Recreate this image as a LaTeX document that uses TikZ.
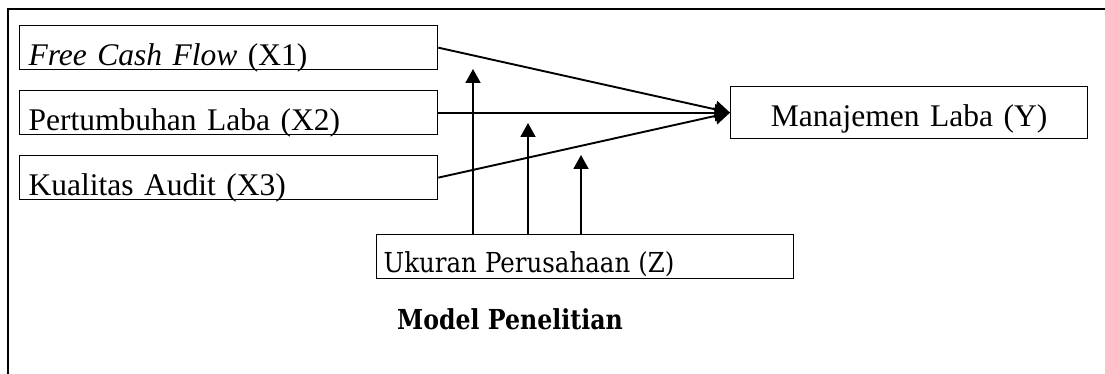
\documentclass[tikz,border=0pt]{standalone}
\usepackage{fontspec}
\usepackage{graphicx}
\setmainfont{Liberation Serif}
\newfontfamily\camfont{DejaVu Serif}
\usetikzlibrary{arrows.meta}
\tikzset{
  varbox/.style={draw, line width=1.3pt, inner xsep=9pt, inner ysep=0pt, align=left,
    font=\fontsize{31.5}{34}\selectfont},
  conn/.style={line width=1.9pt, -{Triangle[length=15pt,width=17pt]}},
  modarrow/.style={line width=1.9pt, -{Triangle[length=14pt,width=15pt]}},
  frame/.style={line width=2pt}
}
\begin{document}
\begin{tikzpicture}[x=1pt,y=-1pt]
\useasboundingbox (0,0) rectangle (1105,374);
\coordinate (fa) at (8,374);
\coordinate (fb) at (8,9.5);
\coordinate (fc) at (1105,9.5);
\draw[frame] (fa) -- (fb) -- (fc);

\node[varbox, anchor=north west, minimum width=418pt, text width=400pt, text height=40pt, text depth=4pt] (x1) at (19,25) {\textit{Free Cash Flow} (X1)};
\node[varbox, anchor=north west, minimum width=418pt, text width=400pt, text height=40pt, text depth=4pt] (x2) at (19,90) {Pertumbuhan Laba (X2)};
\node[varbox, anchor=north west, minimum width=418pt, text width=400pt, text height=40pt, text depth=4pt] (x3) at (19,155) {Kualitas Audit (X3)};
\node[varbox, anchor=north west, align=center, inner xsep=0pt, minimum width=357pt, text width=357pt, text height=40pt, text depth=12pt] (y) at (730,86) {Manajemen Laba (Y)};
\node[varbox, anchor=north west, inner xsep=7pt, minimum width=417pt, text width=403pt, text height=38pt, text depth=6pt, font=\camfont\fontsize{27.5}{30}\selectfont] (z) at (376,234) {\scalebox{0.89}[1]{Ukuran Perusahaan (Z)}};
\node[anchor=base west, inner sep=0pt, font=\camfont\bfseries\fontsize{27.5}{30}\selectfont] (cap) at (397,329) {\scalebox{0.86}[1]{Model Penelitian}};

\draw[conn] (x1.east) -- (y.west);
\draw[conn] (x2.east) -- (y.west);
\draw[conn] (x3.east) -- (y.west);

\coordinate (t1) at (473,69);
\coordinate (t2) at (528,123);
\coordinate (t3) at (581,155);
\draw[modarrow] (t1 |- z.north) -- (t1);
\draw[modarrow] (t2 |- z.north) -- (t2);
\draw[modarrow] (t3 |- z.north) -- (t3);
\end{tikzpicture}
\end{document}
